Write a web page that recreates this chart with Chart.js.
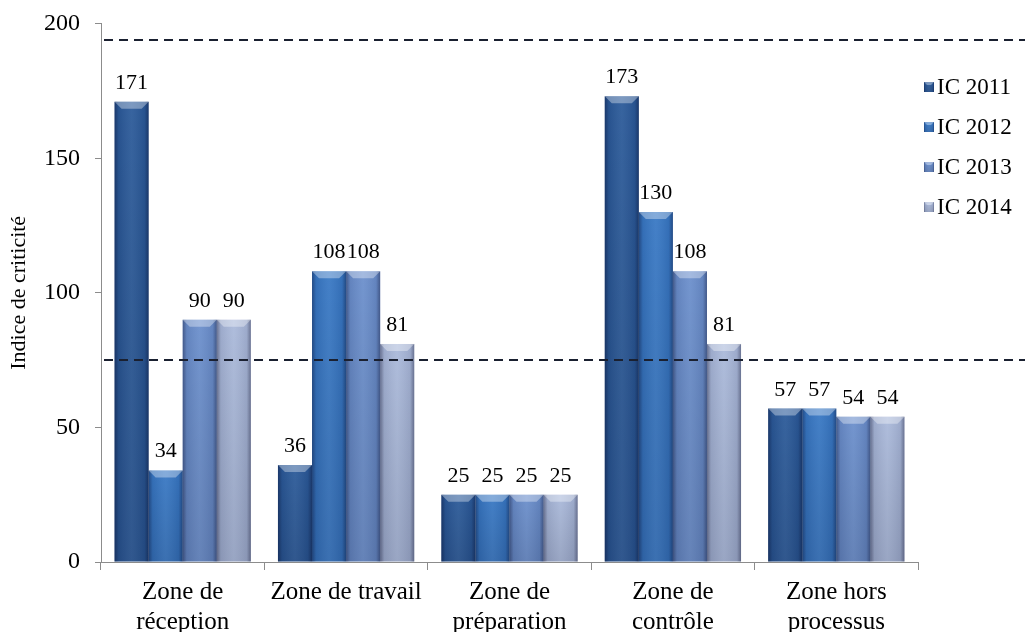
<!DOCTYPE html>
<html><head><meta charset="utf-8">
<script src="https://cdn.jsdelivr.net/npm/chart.js@4/dist/chart.umd.min.js"></script>
<style>html,body{margin:0;padding:0;background:#fff;}#wrap{width:1025px;height:632px;}</style>
</head><body><div id="wrap"><canvas id="c" width="1025" height="632"></canvas></div>
<script>
const categories = [["Zone de","réception"],"Zone de travail",["Zone de","préparation"],["Zone de","contrôle"],["Zone hors","processus"]];
const seriesNames = ["IC 2011","IC 2012","IC 2013","IC 2014"];
const ic2011 = [171, 36, 25, 173, 57];
const ic2012 = [34, 108, 25, 130, 57];
const ic2013 = [90, 108, 25, 108, 54];
const ic2014 = [90, 81, 25, 81, 54];
const thresholds = [194, 75];
const yTicks = [0, 50, 100, 150, 200];
const colors = ["#2b5a99", "#3878c4", "#6b8fcc", "#aab9da"];

const FONT = "'Liberation Serif','Times New Roman',serif";

function shadeBar(ctx, l, t, r, b, bevel) {
  const g = ctx.createLinearGradient(l, 0, r, 0);
  g.addColorStop(0, 'rgba(0,0,30,0.38)');
  g.addColorStop(0.12, 'rgba(0,0,30,0.08)');
  g.addColorStop(0.5, 'rgba(255,255,255,0.06)');
  g.addColorStop(0.88, 'rgba(0,0,30,0.08)');
  g.addColorStop(1, 'rgba(0,0,30,0.38)');
  ctx.fillStyle = g;
  ctx.fillRect(l, t, r - l, b - t);
  const bv = Math.min(bevel, (b - t) / 2);
  ctx.beginPath();
  ctx.moveTo(l, t); ctx.lineTo(r, t); ctx.lineTo(r - bv, t + bv); ctx.lineTo(l + bv, t + bv); ctx.closePath();
  ctx.fillStyle = 'rgba(255,255,255,0.35)';
  ctx.fill();
  const vg = ctx.createLinearGradient(0, t, 0, b);
  vg.addColorStop(0, 'rgba(0,0,0,0)');
  vg.addColorStop(1, 'rgba(0,0,20,0.12)');
  ctx.fillStyle = vg;
  ctx.fillRect(l, t + bv, r - l, b - t - bv);
}

const overlay = {
  id: 'overlay',
  afterDatasetsDraw(chart) {
    const ctx = chart.ctx;
    chart.data.datasets.forEach((ds, di) => {
      const meta = chart.getDatasetMeta(di);
      meta.data.forEach((el) => {
        ctx.save();
        shadeBar(ctx, el.x - el.width / 2, el.y, el.x + el.width / 2, el.base, 7);
        ctx.restore();
      });
    });
    // data labels
    ctx.save();
    ctx.font = '22px ' + FONT;
    ctx.fillStyle = '#000';
    ctx.textAlign = 'center';
    ctx.textBaseline = 'alphabetic';
    chart.data.datasets.forEach((ds, di) => {
      const meta = chart.getDatasetMeta(di);
      meta.data.forEach((el, i) => {
        ctx.fillText(String(ds.data[i]), el.x, el.y - 13);
      });
    });
    ctx.restore();
    // threshold dashed lines
    const ys = chart.scales.y;
    ctx.save();
    ctx.strokeStyle = '#1a2030';
    ctx.lineWidth = 2;
    ctx.setLineDash([9, 6]);
    thresholds.forEach(v => {
      const py = Math.round(ys.getPixelForValue(v));
      ctx.beginPath();
      ctx.moveTo(chart.chartArea.left + 3, py);
      ctx.lineTo(chart.width, py);
      ctx.stroke();
    });
    ctx.restore();
    // legend
    ctx.save();
    ctx.font = '23px ' + FONT;
    ctx.textBaseline = 'middle';
    ctx.textAlign = 'left';
    const lx = chart.chartArea.right + 6;
    chart.data.datasets.forEach((ds, di) => {
      const cy = 87 + di * 40;
      ctx.fillStyle = ds.backgroundColor;
      ctx.fillRect(lx, cy - 5, 10, 10);
      shadeBar(ctx, lx, cy - 5, lx + 10, cy + 5, 3);
      ctx.fillStyle = '#000';
      ctx.fillText(ds.label, lx + 13, cy + 1);
    });
    ctx.restore();
  }
};

new Chart(document.getElementById('c'), {
  type: 'bar',
  data: {
    labels: categories,
    datasets: [ic2011, ic2012, ic2013, ic2014].map((d, i) => ({
      label: seriesNames[i],
      data: d,
      backgroundColor: colors[i],
      borderWidth: 0,
      categoryPercentage: 0.834,
      barPercentage: 1.0
    }))
  },
  options: {
    responsive: false,
    animation: false,
    layout: { padding: { top: 0, right: 107, bottom: -13, left: 3 } },
    plugins: {
      legend: { display: false },
      tooltip: { enabled: false }
    },
    scales: {
      x: {
        grid: { display: true, drawOnChartArea: false, color: '#8c8c8c', tickLength: 8, offset: true },
        border: { color: '#8c8c8c' },
        ticks: { color: '#000', font: { family: FONT, size: 25, lineHeight: 1.18 }, maxRotation: 0, autoSkip: false, padding: 8 }
      },
      y: {
        min: 0, max: 200,
        afterBuildTicks: (s) => { s.ticks = yTicks.map(v => ({ value: v })); },
        grid: { display: true, drawOnChartArea: false, color: '#8c8c8c', tickLength: 6 },
        border: { color: '#8c8c8c' },
        title: { display: true, text: 'Indice de criticité', color: '#000', font: { family: FONT, size: 22, lineHeight: 1.0 }, padding: { top: 5, bottom: -1 } },
        ticks: { color: '#000', font: { family: FONT, size: 24, lineHeight: 0.72 }, padding: 15 }
      }
    }
  },
  plugins: [overlay]
});
</script>
</body></html>
